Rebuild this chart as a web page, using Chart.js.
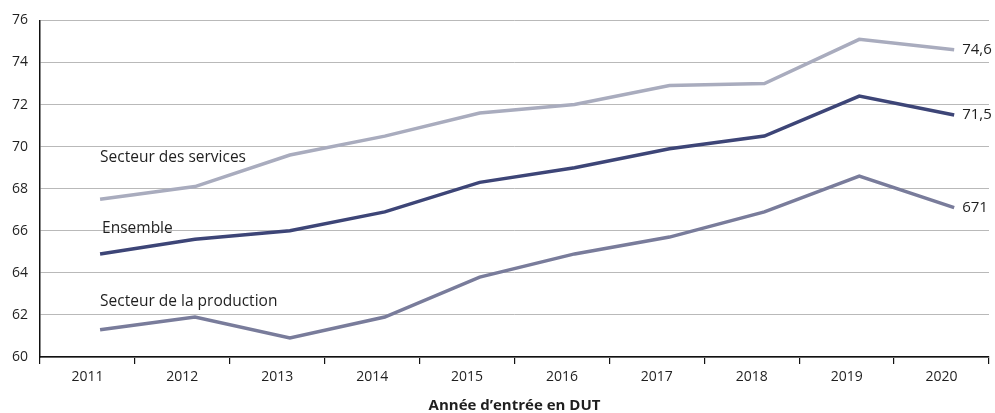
<!DOCTYPE html>
<html>
<head>
<meta charset="utf-8">
<script src="https://cdn.jsdelivr.net/npm/chart.js@4/dist/chart.umd.min.js"></script>
<style>
html,body{margin:0;padding:0;background:#fff;}
#wrap{width:995px;height:413px;}
</style>
</head>
<body>
<div id="wrap"><canvas id="c" width="995" height="413"></canvas></div>
<script>
const categories = ['2011','2012','2013','2014','2015','2016','2017','2018','2019','2020'];
const services   = [67.5, 68.1, 69.6, 70.5, 71.6, 72.0, 72.9, 73.0, 75.1, 74.6];
const ensemble   = [64.9, 65.6, 66.0, 66.9, 68.3, 69.0, 69.9, 70.5, 72.4, 71.5];
const production = [61.3, 61.9, 60.9, 61.9, 63.8, 64.9, 65.7, 66.9, 68.6, 67.1];
const seriesNames = ['Secteur des services', 'Ensemble', 'Secteur de la production'];
const endLabels = ['74,6', '71,5', '671'];
const yTicks = [60, 62, 64, 66, 68, 70, 72, 74, 76];
const axisTitle = 'Année d\u2019entrée en DUT';

const FONT = '"Open Sans", "DejaVu Sans", sans-serif';
const TXT = '#1f1f1f';
const colors = ['#a9acbe', '#3d4577', '#797c9b'];

// name label placement: category index + value anchor
const nameAnchors = [
  {i: 0, v: 69.5, dx: 0},
  {i: 0, v: 66.1, dx: 2},
  {i: 0, v: 62.65, dx: 0}
];

const toPts = arr => arr.map((v, i) => ({x: i, y: v}));

const labelsPlugin = {
  id: 'lineLabels',
  afterDatasetsDraw(chart) {
    const ctx = chart.ctx;
    const xs = chart.scales.xp, ys = chart.scales.y;
    ctx.save();
    ctx.fillStyle = TXT;
    ctx.font = '15.5px ' + FONT;
    ctx.textBaseline = 'middle';
    ctx.textAlign = 'left';
    seriesNames.forEach((n, k) => {
      const a = nameAnchors[k];
      ctx.fillText(n, xs.getPixelForValue(a.i) + a.dx, ys.getPixelForValue(a.v));
    });
    ctx.font = '15px ' + FONT;
    const series = [services, ensemble, production];
    series.forEach((s, k) => {
      const last = s.length - 1;
      ctx.fillText(endLabels[k], xs.getPixelForValue(last) + 8, ys.getPixelForValue(s[last]));
    });
    ctx.restore();
  }
};

new Chart(document.getElementById('c'), {
  type: 'line',
  data: {
    labels: categories,
    datasets: [services, ensemble, production].map((s, k) => ({
      label: seriesNames[k],
      data: toPts(s),
      xAxisID: 'xp',
      borderColor: colors[k],
      borderWidth: 3.5,
      pointRadius: 0,
      tension: 0,
      fill: false,
      borderJoinStyle: 'miter',
      borderCapStyle: 'butt'
    }))
  },
  options: {
    responsive: false,
    animation: false,
    events: [],
    layout: {padding: {top: 20, right: 6, left: 0, bottom: 0}},
    plugins: {legend: {display: false}, tooltip: {enabled: false}, title: {display: false}},
    scales: {
      x: {
        type: 'category',
        offset: true,
        grid: {offset: true, drawOnChartArea: false, drawTicks: true, tickLength: 7, color: '#111', lineWidth: 1.2},
        border: {display: true, color: '#111', width: 1.5},
        ticks: {color: TXT, font: {family: FONT, size: 14}, padding: 5, maxRotation: 0},
        title: {display: true, text: axisTitle, color: TXT, font: {family: FONT, size: 15, weight: 'bold', lineHeight: 1}, padding: {top: 0, bottom: 0}},
        afterFit(s) { s.height = 56; }
      },
      xp: {
        type: 'linear',
        axis: 'x',
        position: 'bottom',
        display: false,
        min: -0.633,
        max: 9.367
      },
      y: {
        min: 60, max: 76,
        afterBuildTicks(s) { s.ticks = yTicks.map(v => ({value: v})); },
        grid: {drawTicks: false, color: '#b9b9b9', lineWidth: 1},
        border: {display: true, color: '#111', width: 1.5},
        ticks: {color: TXT, font: {family: FONT, size: 14}, padding: 12},
        afterFit(s) { s.width = 40; }
      }
    }
  },
  plugins: [labelsPlugin]
});
</script>
</body>
</html>
